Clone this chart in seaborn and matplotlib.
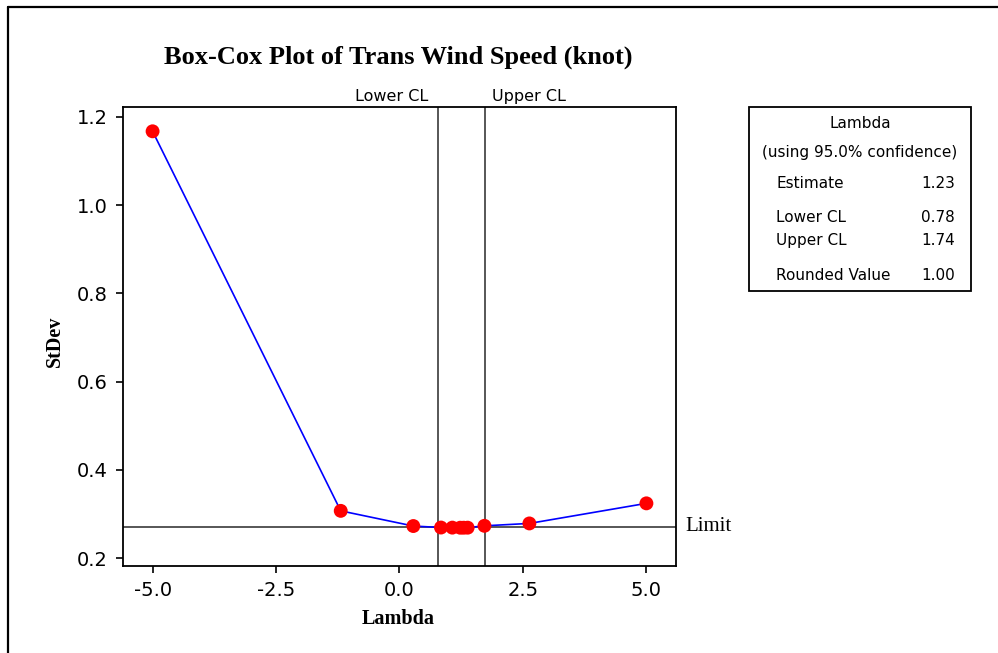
import matplotlib
matplotlib.use("Agg")
import matplotlib.pyplot as plt
from matplotlib.lines import Line2D
from matplotlib.patches import Rectangle
import seaborn as sns
import pandas as pd

# Box-Cox search results: lambda vs. pooled standard deviation
lambdas = [-5.0, -1.19, 0.28, 0.84, 1.07, 1.23, 1.30, 1.38, 1.72, 2.63, 5.0]
stdevs = [1.167, 0.307, 0.2726, 0.2692, 0.2690, 0.2688, 0.2688, 0.2689, 0.2731, 0.2785, 0.324]

limit = 0.2706
lower_cl = 0.78
upper_cl = 1.74
estimate = 1.23
rounded_value = 1.00
confidence = 95.0

x_ticks = [-5.0, -2.5, 0.0, 2.5, 5.0]
y_ticks = [0.2, 0.4, 0.6, 0.8, 1.0, 1.2]

df = pd.DataFrame({"Lambda": lambdas, "StDev": stdevs})

sns.set_style("white")
plt.rcParams["font.family"] = ["DejaVu Sans"]
plt.rcParams["text.color"] = "black"
plt.rcParams["axes.labelcolor"] = "black"

fig = plt.figure(figsize=(9.98, 6.53), dpi=100)
ax = fig.add_axes([0.1232, 0.1332, 0.5542, 0.7029])

serif = ["Liberation Serif", "DejaVu Serif"]

# Reference lines: confidence limits and the SD limit
ax.axvline(lower_cl, color="#3a3a3a", lw=1.2, zorder=1)
ax.axvline(upper_cl, color="#3a3a3a", lw=1.2, zorder=1)
ax.axhline(limit, color="#3a3a3a", lw=1.2, zorder=1)

sns.lineplot(data=df, x="Lambda", y="StDev", ax=ax, color="#0000ff", lw=1.2,
             sort=False, zorder=2)
sns.scatterplot(data=df, x="Lambda", y="StDev", ax=ax, color="#ff0000", s=100,
                edgecolor="none", zorder=3)

ax.set_xlim(-5.6, 5.6)
ax.set_ylim(0.182, 1.222)
ax.set_xticks(x_ticks)
ax.set_yticks(y_ticks)
ax.set_xticklabels([f"{v:.1f}" for v in x_ticks])
ax.set_yticklabels([f"{v:.1f}" for v in y_ticks])
ax.tick_params(axis="both", direction="out", length=5, width=1.2, colors="black",
               labelcolor="black", labelsize=14, left=True, bottom=True, pad=6)
for sp in ax.spines.values():
    sp.set_linewidth(1.3)
    sp.set_color("black")

ax.set_xlabel("Lambda", fontsize=14.5, fontweight="bold", family=serif)
ax.set_ylabel("StDev", fontsize=14.5, fontweight="bold", family=serif)
ax.xaxis.set_label_coords(0.498, -0.094)
ax.yaxis.set_label_coords(-0.105, 0.49)

# Labels above the confidence-limit lines and beside the SD limit
ax.annotate("Lower CL", xy=(lower_cl, 1.0), xycoords=("data", "axes fraction"),
            xytext=(-10, 3), textcoords="offset pixels", ha="right", va="bottom",
            fontsize=11.5)
ax.annotate("Upper CL", xy=(upper_cl, 1.0), xycoords=("data", "axes fraction"),
            xytext=(7, 3), textcoords="offset pixels", ha="left", va="bottom",
            fontsize=11.5)
ax.annotate("Limit", xy=(1.0, limit), xycoords=("axes fraction", "data"),
            xytext=(9, 0), textcoords="offset pixels", ha="left", va="center",
            fontsize=15, family=serif)

fig.text(398 / 998, 1 - 57 / 653, "Box-Cox Plot of Trans Wind Speed (knot)",
         ha="center", va="center", fontsize=19, fontweight="bold", family=serif)

# Summary box
W, H = 998, 653
fig.add_artist(Rectangle((749 / W, 1 - 291 / H), (971 - 749) / W, (291 - 107) / H,
                         transform=fig.transFigure, fill=False, ec="black", lw=1.3))

def px(x, y):
    return x / W, 1 - y / H

fs = 11
fig.text(*px(860, 123), "Lambda", ha="center", va="center", fontsize=fs)
fig.text(*px(860, 153), f"(using {confidence:.1f}% confidence)", ha="center",
         va="center", fontsize=fs)
rows = [("Estimate", estimate, 183), ("Lower CL", lower_cl, 217),
        ("Upper CL", upper_cl, 240), ("Rounded Value", rounded_value, 275)]
for name, val, yy in rows:
    fig.text(*px(776, yy), name, ha="left", va="center", fontsize=fs)
    fig.text(*px(955, yy), f"{val:.2f}", ha="right", va="center", fontsize=fs)

# Outer frame (left and top edges)
fig.add_artist(Line2D([8 / W, 8 / W], [0, 1 - 7 / H], transform=fig.transFigure,
                      color="black", lw=1.6))
fig.add_artist(Line2D([8 / W, 1], [1 - 7 / H, 1 - 7 / H], transform=fig.transFigure,
                      color="black", lw=1.6))

fig.savefig("out.png", dpi=100, facecolor="white")
